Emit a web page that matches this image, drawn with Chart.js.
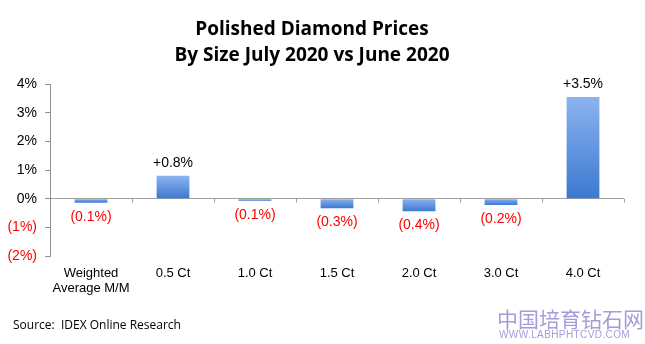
<!DOCTYPE html>
<html>
<head>
<meta charset="utf-8">
<script src="https://cdn.jsdelivr.net/npm/chart.js@4.4.0/dist/chart.umd.min.js"></script>
<style>
  html, body { margin: 0; padding: 0; background: #fff; }
  #wrap { position: relative; width: 645px; height: 344px; overflow: hidden; }
  #source { position: absolute; left: 13px; top: 316px; font: 12px "Open Sans", "Noto Sans", sans-serif; color: #000; white-space: nowrap; }
  #mark { position: absolute; left: 497px; top: 307px; color: #a79bd8; font-family: "Noto Sans CJK SC", sans-serif; white-space: nowrap; }
  #mark .cn { font-size: 21px; line-height: 22px; }
  #mark .url { font: 10px "Liberation Sans", Arial, sans-serif; line-height: 12px; letter-spacing: 0.4px; padding-left: 2px; }
</style>
</head>
<body>
<div id="wrap">
  <canvas id="diamondChart" width="645" height="344"></canvas>
  <div id="source">Source:&nbsp; IDEX Online Research</div>
  <div id="mark"><div class="cn">中国培育钻石网</div><div class="url">WWW.LABHPHTCVD.COM</div></div>
</div>
<script>
const categories = [['Weighted', 'Average M/M'], '0.5 Ct', '1.0 Ct', '1.5 Ct', '2.0 Ct', '3.0 Ct', '4.0 Ct'];
const changes = [-0.14, 0.8, -0.07, -0.33, -0.44, -0.22, 3.55];
const yTicks = [-2, -1, 0, 1, 2, 3, 4];
const titleLines = ['Polished Diamond Prices', 'By Size July 2020 vs June 2020'];

function fmtPct(v, dec) {
    const s = Math.abs(v).toFixed(dec) + '%';
    if (v < 0) return '(' + s + ')';
    return s;
}

function barGradient(c) {
    const chart = c.chart;
    const y = chart.scales.y;
    if (!chart.chartArea || !y) return '#5d93dc';
    const v = changes[c.dataIndex];
    const top = y.getPixelForValue(Math.max(v, 0));
    let bottom = y.getPixelForValue(Math.min(v, 0));
    if (bottom - top < 1) bottom = top + 1;
    const g = chart.ctx.createLinearGradient(0, top, 0, bottom);
    g.addColorStop(0, '#8db3f0');
    g.addColorStop(1, '#3b79d0');
    return g;
}

// value labels + small category ticks on the zero line
const extras = {
    id: 'extras',
    afterDatasetsDraw(chart) {
        const ctx = chart.ctx;
        const x = chart.scales.x;
        const y = chart.scales.y;
        const zero = y.getPixelForValue(0);
        ctx.save();
        ctx.strokeStyle = '#a0a0a0';
        ctx.lineWidth = 1;
        for (let i = 1; i <= categories.length; i++) {
            const px = Math.round(x.getPixelForValue(i - 0.5)) + 0.5;
            ctx.beginPath();
            ctx.moveTo(px, zero);
            ctx.lineTo(px, zero + 4);
            ctx.stroke();
        }
        ctx.font = '14px "Liberation Sans", Arial, sans-serif';
        ctx.textAlign = 'center';
        ctx.textBaseline = 'middle';
        const meta = chart.getDatasetMeta(0);
        meta.data.forEach((bar, i) => {
            const v = changes[i];
            if (v >= 0) {
                ctx.fillStyle = '#000';
                ctx.fillText('+' + fmtPct(v, 1), bar.x, bar.y - 13);
            } else {
                ctx.fillStyle = '#ff0000';
                ctx.fillText(fmtPct(v, 1), bar.x, bar.y + 14);
            }
        });
        ctx.restore();
    }
};

const ctxDiamond = document.getElementById('diamondChart').getContext('2d');

new Chart(ctxDiamond, {
    type: 'bar',
    data: {
        labels: categories,
        datasets: [{
            label: 'M/M change',
            data: changes,
            backgroundColor: barGradient,
            borderWidth: 0,
            barPercentage: 0.4,
            categoryPercentage: 1
        }]
    },
    options: {
        responsive: false,
        animation: false,
        layout: { padding: { top: 0, right: 21, bottom: 0, left: 0 } },
        plugins: {
            legend: { display: false },
            tooltip: { enabled: false },
            title: {
                display: true,
                text: titleLines,
                color: '#000',
                font: { family: '"Open Sans", "Noto Sans", sans-serif', size: 19, weight: 'bold', lineHeight: 1.37 },
                padding: { top: 17, bottom: 15 }
            }
        },
        scales: {
            x: {
                grid: { display: false },
                border: { display: false },
                ticks: {
                    color: '#000',
                    padding: 2,
                    maxRotation: 0,
                    autoSkip: false,
                    font: { family: '"Liberation Sans", Arial, sans-serif', size: 13, lineHeight: 1.15 }
                },
                afterFit(scale) { scale.height = 88; }
            },
            y: {
                min: -2,
                max: 4,
                afterBuildTicks(scale) { scale.ticks = yTicks.map(v => ({ value: v })); },
                afterFit(scale) { scale.width = 50; },
                border: { display: true, color: '#909090' },
                grid: {
                    color: c => (c.tick && c.tick.value === 0) ? '#a0a0a0' : 'rgba(0,0,0,0)',
                    tickColor: '#909090',
                    tickLength: 5
                },
                ticks: {
                    padding: 8,
                    color: c => c.tick.value < 0 ? '#ff0000' : '#000',
                    font: { family: '"Liberation Sans", Arial, sans-serif', size: 14 },
                    callback: v => fmtPct(v, 0)
                }
            }
        }
    },
    plugins: [extras]
});
</script>
</body>
</html>
